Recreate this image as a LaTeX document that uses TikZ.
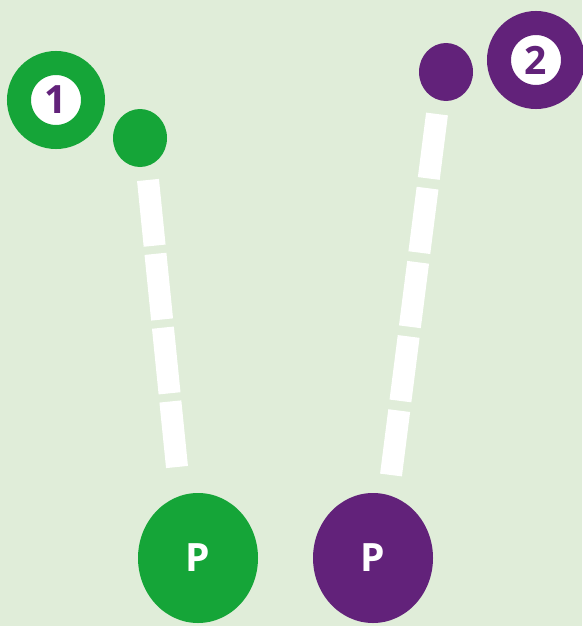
\documentclass[tikz,border=0pt]{standalone}
\usetikzlibrary{shapes.geometric}
\usepackage{fontspec}
\setsansfont{Open Sans}
\definecolor{bg}{HTML}{E0EDD9}
\definecolor{pgreen}{HTML}{15A538}
\definecolor{ppurple}{HTML}{62227A}
\begin{document}
\begin{tikzpicture}[x=1pt,y=-1pt,
  ring/.style={circle,inner sep=0pt,minimum size=74pt,line width=24pt,fill=white,
    font=\sffamily\bfseries\fontsize{39}{39}\selectfont,text=ppurple},
  dot/.style={ellipse,inner sep=0pt,minimum width=54pt,minimum height=58pt},
  bigp/.style={ellipse,inner sep=0pt,minimum width=120pt,minimum height=130pt,
    text=white,font=\sffamily\bfseries\fontsize{39}{39}\selectfont},
  trail/.style={white,line width=22pt,line cap=butt}]
\useasboundingbox[fill=bg] (0,0) rectangle (582,626);
% green path
\node[ring,draw=pgreen] (r1) at (56,100) {1};
\node[dot,fill=pgreen] (d1) at (140,138) {};
\node[bigp,fill=pgreen] (p1) at (198,558) {P};
% purple path
\node[ring,draw=ppurple] (r2) at (536,60) {2};
\node[dot,fill=ppurple] (d2) at (446,72) {};
\node[bigp,fill=ppurple] (p2) at (373,558) {P};
% trails
\coordinate (a1) at (148,180);
\coordinate (b1) at (177,467);
\coordinate (a2) at (437,114);
\coordinate (b2) at (391,475);
\draw[trail,dash pattern=on 66pt off 8.2pt] (a1) -- (b1);
\draw[trail,dash pattern=on 65pt off 9.75pt] (a2) -- (b2);
\end{tikzpicture}
\end{document}
